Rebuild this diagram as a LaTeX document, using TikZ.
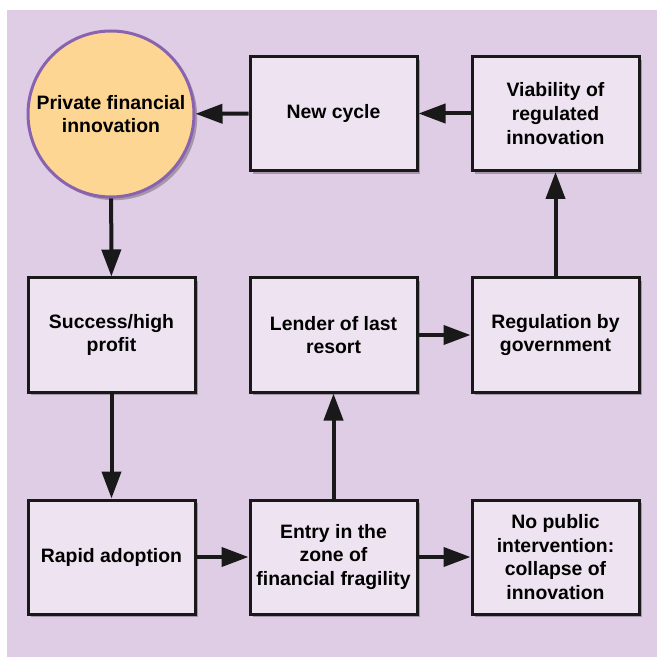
\documentclass[tikz,border=0pt]{standalone}
\usepackage{fontspec}
\setmainfont{Liberation Sans}
\usetikzlibrary{arrows.meta,shadows}

\definecolor{panelbg}{HTML}{DFCCE5}
\definecolor{boxfill}{HTML}{EEE3F0}
\definecolor{discfill}{HTML}{FED693}
\definecolor{discline}{HTML}{8A63B0}
\definecolor{shadowgray}{HTML}{A597A9}

\tikzset{
	stage/.style = {draw = black!90, line width = 1.5pt, fill = boxfill, minimum width = 83.5pt, minimum height = 57pt, align = center, inner sep = 2pt,
		drop shadow = {shadow xshift = 1.6pt, shadow yshift = -1.6pt, fill = shadowgray, opacity = 1}},
	origin/.style = {circle, draw = discline, line width = 1.5pt, fill = discfill, minimum size = 83pt, align = center, inner sep = 1pt,
		drop shadow = {shadow xshift = 1.6pt, shadow yshift = -1.6pt, fill = shadowgray, opacity = 1}},
	flow/.style = {line width = 2pt, draw = black!90, -{Triangle[length = 13.5pt, width = 9.5pt]}}
}

\begin{document}
\begin{tikzpicture}[x = 0.5pt, y = -0.5pt, font = \bfseries\fontsize{9.7}{11.8}\selectfont]
		\useasboundingbox (0, 0) rectangle (657, 657);
		\fill [panelbg] (7, 10) rectangle (657, 657);

		% top row
		\node (privinn) at (111, 114) [origin] {Private financial\\innovation};
		\node (newcycle) at (333.5, 113.5) [stage] {New cycle};
		\node (viability) at (555.5, 113.5) [stage] {Viability of\\regulated\\innovation};

		% middle row
		\node (success) at (111.5, 335) [stage] {Success/high\\profit};
		\node (lender) at (333.5, 335) [stage] {Lender of last\\resort};
		\node (regulation) at (555.5, 335) [stage] {Regulation by\\government};

		% bottom row
		\node (rapid) at (111.5, 557) [stage] {Rapid adoption};
		\node (fragility) at (333.5, 557) [stage] {Entry in the\\zone of\\financial fragility};
		\node (collapse) at (555.5, 557) [stage] {No public\\intervention:\\collapse of\\innovation};

		% connectors
		\draw [flow] (privinn) -- (success);
		\draw [flow] (success) -- (rapid);
		\draw [flow] (rapid) -- (fragility);
		\draw [flow] (fragility) -- (collapse);
		\draw [flow] (fragility) -- (lender);
		\draw [flow] (lender) -- (regulation);
		\draw [flow] (regulation) -- (viability);
		\draw [flow] (viability) -- (newcycle);
		\draw [flow] (newcycle) -- (privinn);
	\end{tikzpicture}
\end{document}
